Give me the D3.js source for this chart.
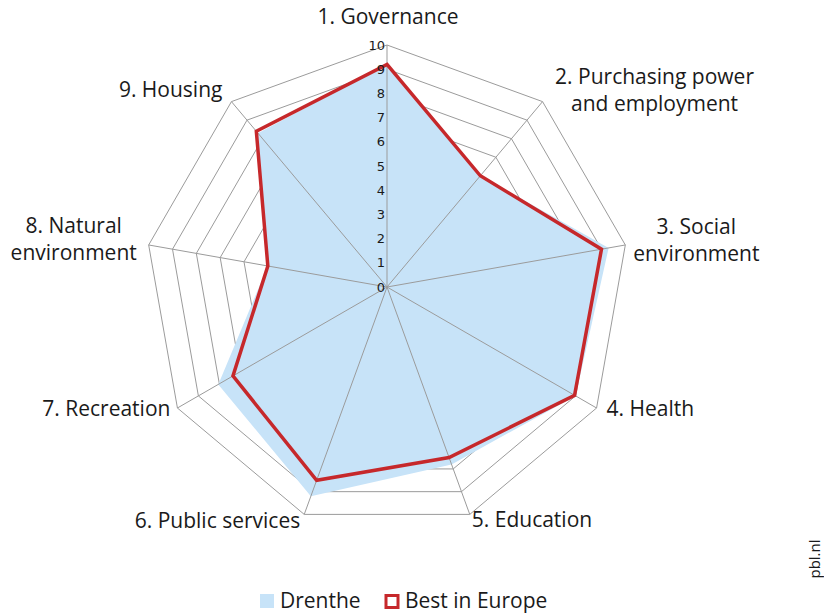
<!DOCTYPE html>
<html>
<head>
<meta charset="utf-8">
<script src="https://cdn.jsdelivr.net/npm/d3@7"></script>
<style>
  body { margin: 0; background: #fff; }
  svg { display: block; }
  text { font-family: "Open Sans", sans-serif; fill: #1a1a1a; }
</style>
</head>
<body>
<svg id="chart" width="824" height="616"></svg>
<script>
// ---- data ----
const categories = [
  ["1. Governance"],
  ["2. Purchasing power", "and employment"],
  ["3. Social", "environment"],
  ["4. Health"],
  ["5. Education"],
  ["6. Public services"],
  ["7. Recreation"],
  ["8. Natural", "environment"],
  ["9. Housing"]
];
const drenthe = [9.2, 6.0, 9.3, 9.0, 7.8, 9.2, 8.05, 5.0, 8.3];
const bestInEurope = [9.2, 6.0, 9.0, 8.95, 7.5, 8.5, 7.35, 5.0, 8.4];
const tickValues = [0, 1, 2, 3, 4, 5, 6, 7, 8, 9, 10];
const ringValues = [6, 7, 8, 9, 10];
const seriesNames = ["Drenthe", "Best in Europe"];

// ---- layout ----
const cx = 387, cy = 287;
const svg = d3.select("#chart");
const r = d3.scaleLinear().domain([0, 10]).range([0, 242]);
const n = categories.length;
const angle = d3.scaleLinear().domain([0, n]).range([0, 2 * Math.PI]);
const blue = "#c7e3f8", red = "#c6282b", grid = "#9b9b9b";

const g = svg.append("g").attr("transform", `translate(${cx},${cy})`);
const pt = (i, v) => {
  const a = angle(i);
  return [Math.sin(a) * r(v), -Math.cos(a) * r(v)];
};
const line = d3.line();

// rings (below fill)
g.selectAll("path.ring").data(ringValues).join("path")
  .attr("class", "ring")
  .attr("d", v => line(d3.range(n).map(i => pt(i, v))) + "Z")
  .attr("fill", "none").attr("stroke", grid).attr("stroke-width", 1);

// Drenthe fill
g.append("path")
  .attr("d", line(drenthe.map((v, i) => pt(i, v))) + "Z")
  .attr("fill", blue);

// spokes (over fill)
g.selectAll("line.spoke").data(d3.range(n)).join("line")
  .attr("class", "spoke")
  .attr("x1", 0).attr("y1", 0)
  .attr("x2", i => pt(i, 10)[0]).attr("y2", i => pt(i, 10)[1])
  .attr("stroke", grid).attr("stroke-width", 1);

// Best in Europe line
g.append("path")
  .attr("d", line(bestInEurope.map((v, i) => pt(i, v))) + "Z")
  .attr("fill", "none").attr("stroke", red).attr("stroke-width", 3.5)
  .attr("stroke-linejoin", "miter");

// tick labels
g.selectAll("text.tick").data(tickValues).join("text")
  .attr("class", "tick")
  .attr("x", -2).attr("y", v => -r(v))
  .attr("dy", "0.35em")
  .attr("text-anchor", "end")
  .style("font-family", "'DejaVu Sans', sans-serif")
  .style("font-size", "13px")
  .text(d => d);

// category labels: offsets relative to outer vertex
const labelOpts = [
  { dx: 1, dy: -28, anchor: "middle" },
  { dx: 112, dy: -11, anchor: "middle" },
  { dx: 71, dy: -5, anchor: "middle" },
  { dx: 10, dy: 1, anchor: "start" },
  { dx: 2, dy: 5, anchor: "start" },
  { dx: -4, dy: 6, anchor: "end" },
  { dx: -7, dy: 1, anchor: "end" },
  { dx: -75, dy: -6, anchor: "middle" },
  { dx: -9, dy: -12, anchor: "end" }
];
const lh = 27;
categories.forEach((lines, i) => {
  const [x, y] = pt(i, 10);
  const o = labelOpts[i];
  const t = g.append("text")
    .attr("text-anchor", o.anchor)
    .style("font-size", "21px");
  lines.forEach((s, k) => {
    t.append("tspan")
      .attr("x", x + o.dx)
      .attr("y", y + o.dy + (k - (lines.length - 1) / 2) * lh)
      .attr("dy", "0.35em")
      .text(s);
  });
});

// legend
const leg = svg.append("g").attr("transform", "translate(260,594)");
leg.append("rect").attr("x", 0).attr("y", 0).attr("width", 14).attr("height", 14).attr("fill", blue);
leg.append("text").attr("x", 20).attr("y", 7).attr("dy", "0.35em").style("font-size", "21px").text(seriesNames[0]);
leg.append("rect").attr("x", 126).attr("y", 1.5).attr("width", 12).attr("height", 12)
  .attr("fill", "#fff").attr("stroke", red).attr("stroke-width", 3);
leg.append("text").attr("x", 145).attr("y", 7).attr("dy", "0.35em").style("font-size", "21px").text(seriesNames[1]);

// source
svg.append("text")
  .attr("transform", "translate(820,559) rotate(-90)")
  .attr("text-anchor", "middle")
  .style("font-size", "15px")
  .text("pbl.nl");
</script>
</body>
</html>
